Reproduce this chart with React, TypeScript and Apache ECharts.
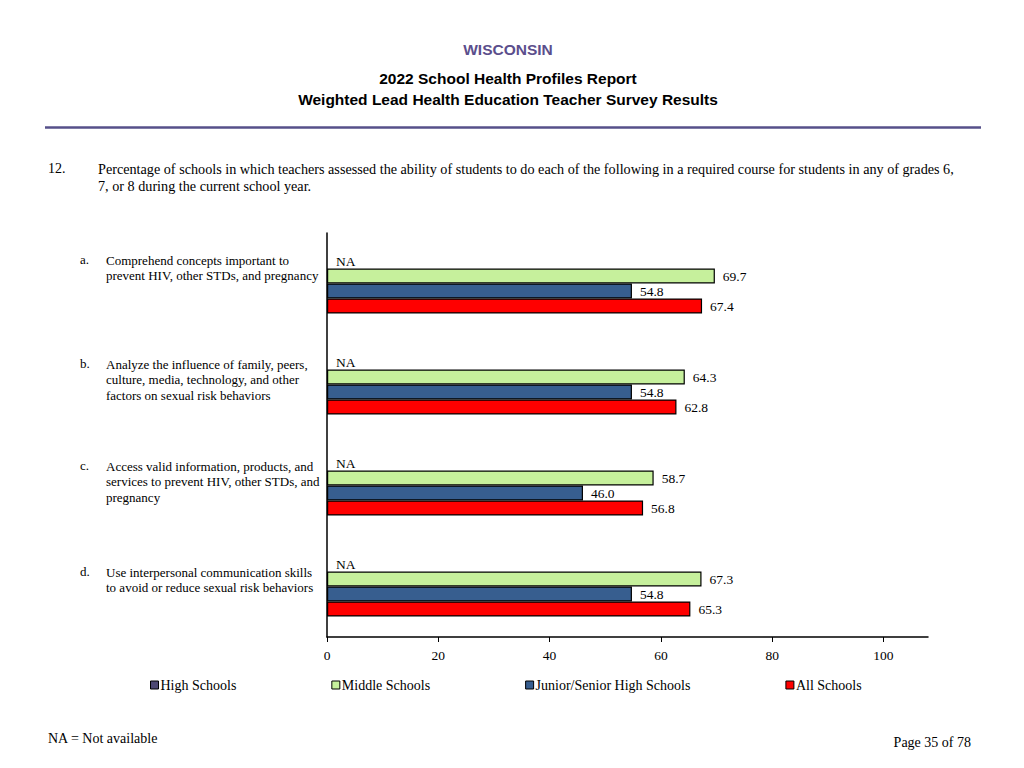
import React, { useEffect, useRef } from "react";
import * as echarts from "echarts";

const categoryLetters = ["a.", "b.", "c.", "d."];
const categoryTexts = [
  "Comprehend concepts important to\nprevent HIV, other STDs, and pregnancy",
  "Analyze the influence of family, peers,\nculture, media, technology, and other\nfactors on sexual risk behaviors",
  "Access valid information, products, and\nservices to prevent HIV, other STDs, and\npregnancy",
  "Use interpersonal communication skills\nto avoid or reduce sexual risk behaviors",
];
const seriesNames = ["High Schools", "Middle Schools", "Junior/Senior High Schools", "All Schools"];
const highSchools: (number | null)[] = [null, null, null, null];
const middleSchools = [69.7, 64.3, 58.7, 67.3];
const juniorSenior = [54.8, 54.8, 46.0, 54.8];
const allSchools = [67.4, 62.8, 56.8, 65.3];
const tickValues = [0, 20, 40, 60, 80, 100];

const colors = ["#4d4873", "#c6f09c", "#375e8f", "#ff0000"];
const SERIF = "'Liberation Serif', 'Times New Roman', serif";
const SANS = "'Liberation Sans', Arial, sans-serif";
// small per-category vertical nudges of the left-hand descriptions (layout only)
const labelNudge = [-4, -1, 0, 5];

export default function App() {
  const ref = useRef<HTMLDivElement>(null);
  useEffect(() => {
    if (!ref.current) return;
    const chart = echarts.init(ref.current, null, { renderer: "svg" });
    const valueLabel = {
      show: true,
      position: "right" as const,
      distance: 8,
      color: "#000000",
      textBorderWidth: 0,
      fontFamily: SERIF,
      fontSize: 13.5,
      formatter: (p: any) => (p.value == null ? "" : Number(p.value).toFixed(1)),
    };
    const allData = [highSchools, middleSchools, juniorSenior, allSchools];
    const series = allData.map((arr, si) => ({
      name: seriesNames[si],
      type: "bar",
      barWidth: 15,
      barGap: "0%",
      data: si === 0 ? arr.map((v) => (v == null ? 0 : v)) : arr,
      itemStyle: { color: colors[si], borderColor: "#000", borderWidth: si === 0 ? 0 : 1.2 },
      label:
        si === 0
          ? {
              ...valueLabel,
              distance: 9,
              formatter: (p: any) => (highSchools[p.dataIndex] == null ? "NA" : Number(p.value).toFixed(1)),
            }
          : valueLabel,
    }));

    const staticGraphics: any[] = [
      { type: "text", x: 508, y: 41, style: { text: "WISCONSIN", align: "center", font: `bold 15.5px ${SANS}`, fill: "#5b4e8c" } },
      { type: "text", x: 508, y: 70, style: { text: "2022 School Health Profiles Report", align: "center", font: `bold 15.5px ${SANS}`, fill: "#000" } },
      { type: "text", x: 508, y: 91, style: { text: "Weighted Lead Health Education Teacher Survey Results", align: "center", font: `bold 15.5px ${SANS}`, fill: "#000" } },
      { type: "line", shape: { x1: 45, y1: 127.5, x2: 981, y2: 127.5 }, style: { stroke: "#56508a", lineWidth: 2.5 } },
      { type: "text", x: 48, y: 161, style: { text: "12.", font: `14px ${SERIF}`, fill: "#000" } },
      {
        type: "text",
        x: 98,
        y: 161,
        style: {
          text:
            "Percentage of schools in which teachers assessed the ability of students to do each of the following in a required course for students in any of grades 6,\n7, or 8 during the current school year.",
          font: `14.2px ${SERIF}`,
          lineHeight: 16.5,
          fill: "#000",
        },
      },
      { type: "text", x: 48, y: 731, style: { text: "NA = Not available", font: `14px ${SERIF}`, fill: "#000" } },
      { type: "text", right: 53, top: 735, style: { text: "Page 35 of 78", font: `14px ${SERIF}`, fill: "#000" } },
    ];

    chart.setOption({
      animation: false,
      backgroundColor: "#fff",
      grid: { left: 327, right: 96, top: 233, bottom: 131, containLabel: false },
      legend: {
        left: 145,
        top: 673,
        itemGap: 95,
        itemWidth: 8,
        itemHeight: 8,
        icon: "rect",
        data: seriesNames.map((n, i) => ({ name: n, itemStyle: { color: colors[i], borderColor: "#000", borderWidth: 1 } })),
        textStyle: { fontFamily: SERIF, fontSize: 14, color: "#000", padding: [0, 0, 0, -3] },
      },
      xAxis: {
        type: "value",
        min: 0,
        max: 108,
        interval: 20,
        splitLine: { show: false },
        axisLine: { show: true, lineStyle: { color: "#000", width: 1.5 } },
        axisTick: { show: true, length: 5, lineStyle: { color: "#000", width: 1 }, customValues: tickValues },
        axisLabel: { customValues: tickValues, color: "#000", fontFamily: SERIF, fontSize: 13.5, margin: 11 },
      },
      yAxis: {
        type: "category",
        inverse: true,
        data: categoryLetters,
        axisLine: { show: true, lineStyle: { color: "#000", width: 1.5 } },
        axisTick: { show: false },
        axisLabel: { show: false },
      },
      series,
      graphic: staticGraphics,
    });

    const labelGraphics: any[] = [];
    categoryLetters.forEach((letter, i) => {
      const cy = chart.convertToPixel({ yAxisIndex: 0 }, i) as number;
      const top = cy - 27 + labelNudge[i];
      labelGraphics.push({ type: "text", x: 80, y: top, style: { text: letter, font: `13px ${SERIF}`, fill: "#000" } });
      labelGraphics.push({
        type: "text",
        x: 106,
        y: top,
        style: { text: categoryTexts[i], font: `13px ${SERIF}`, lineHeight: 15.5, fill: "#000" },
      });
    });
    chart.setOption({ graphic: [...staticGraphics, ...labelGraphics] });

    return () => chart.dispose();
  }, []);
  return (
    <div
      ref={ref}
      style={{ position: "fixed", left: 0, top: 0, width: 1024, height: 768, background: "#fff" }}
    />
  );
}
